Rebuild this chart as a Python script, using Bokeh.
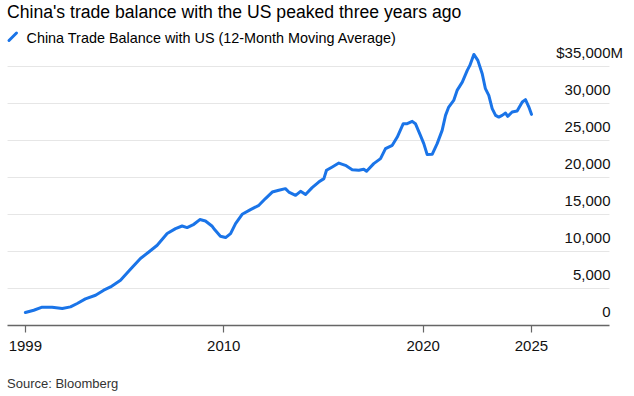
from bokeh.plotting import figure
from bokeh.models import FixedTicker, Range1d, Grid, ColumnDataSource
from bokeh.core.properties import value
from bokeh.embed import file_html
from bokeh.resources import INLINE

# ---- data ----
TITLE = "China's trade balance with the US peaked three years ago"
SERIES_NAME = "China Trade Balance with US (12-Month Moving Average)"
SOURCE = "Source: Bloomberg"

years = [2000.05, 2000.47, 2000.89, 2001.39, 2001.90, 2002.31, 2002.65, 2003.06, 2003.57, 2003.98,
         2004.32, 2004.82, 2005.32, 2005.82, 2006.24, 2006.66, 2007.16, 2007.58, 2007.91, 2008.16,
         2008.50, 2008.80, 2009.08, 2009.42, 2009.55, 2009.83, 2010.09, 2010.34, 2010.59, 2010.92,
         2011.34, 2011.76, 2012.09, 2012.43, 2012.76, 2013.09, 2013.26, 2013.60, 2013.85, 2014.10,
         2014.43, 2014.76, 2015.02, 2015.15, 2015.44, 2015.77, 2016.10, 2016.44, 2016.77, 2017.02,
         2017.16, 2017.52, 2017.86, 2018.11, 2018.45, 2018.70, 2019.00, 2019.20, 2019.45, 2019.61,
         2019.86, 2020.03, 2020.20, 2020.45, 2020.70, 2020.95, 2021.12, 2021.28, 2021.53, 2021.70,
         2021.96, 2022.21, 2022.34, 2022.54, 2022.74, 2022.96, 2023.12, 2023.29, 2023.46, 2023.63,
         2023.79, 2023.96, 2024.13, 2024.24, 2024.46, 2024.71, 2024.97, 2025.13, 2025.30, 2025.43]
balance = [1750, 2060, 2470, 2470, 2290, 2510, 2970, 3590, 4080, 4760,
           5200, 6100, 7590, 9030, 9920, 10820, 12400, 13070, 13420, 13210,
           13650, 14290, 14100, 13380, 12900, 12040, 11860, 12400, 13750, 15000,
           15630, 16210, 17120, 18000, 18240, 18460, 18000, 17560, 18100, 17660,
           18600, 19350, 19810, 20930, 21380, 21910, 21600, 21020, 20930, 21070,
           20800, 21830, 22510, 23850, 24300, 25420, 27220, 27220, 27530, 27220,
           25650, 24530, 23050, 23090, 24530, 26320, 28340, 29460, 30360, 31710,
           32830, 34410, 35080, 36560, 35760, 33960, 31940, 31040, 29250, 28340,
           28110, 28340, 28650, 28210, 28790, 28920, 30140, 30460, 29460, 28480]

x_ticks = [2000.05, 2010.0, 2020.0, 2025.43]
x_labels = ["1999", "2010", "2020", "2025"]
y_ticks = [0, 5000, 10000, 15000, 20000, 25000, 30000, 35000]
y_labels = ["0", "5,000", "10,000", "15,000", "20,000", "25,000", "30,000", "$35,000"]
y_unit = "M"

# ---- styling / layout ----
BLUE = "#1a74e8"
FONT = "Liberation Sans"
W, H = 630, 394
F_LEFT, F_RIGHT, F_TOP, F_BOTTOM = 7, 609, 48, 325
X_START, X_END = 1999.153, 2029.343
Y_END = 37361
PX_X = (F_RIGHT - F_LEFT) / (X_END - X_START)
PX_Y = (F_BOTTOM - F_TOP) / Y_END


def sx_to_x(sx):
    return X_START + (sx - F_LEFT) / PX_X


def sy_to_y(sy):
    return (F_BOTTOM - sy) / PX_Y


p = figure(width=W, height=H, output_backend="svg", toolbar_location=None,
           x_range=Range1d(X_START, X_END), y_range=Range1d(0, Y_END),
           y_axis_location=None,
           min_border_left=F_LEFT, min_border_right=W - F_RIGHT,
           min_border_top=F_TOP, min_border_bottom=H - F_BOTTOM)
p.outline_line_color = None
p.background_fill_color = "white"
p.border_fill_color = "white"
p.xgrid.visible = False

p.add_layout(Grid(dimension=1, ticker=FixedTicker(ticks=y_ticks),
                  grid_line_color="#e6e6e6", grid_line_width=1))

ax = p.xaxis[0]
ax.ticker = FixedTicker(ticks=x_ticks)
ax.major_label_overrides = {float(t): l for t, l in zip(x_ticks, x_labels)}
ax.axis_line_color = "#666666"
ax.axis_line_width = 1.3
ax.major_tick_line_color = "#666666"
ax.major_tick_line_width = 1.2
ax.major_tick_out = 7
ax.major_tick_in = 0
ax.minor_tick_out = 0
ax.minor_tick_in = 0
ax.major_label_standoff = 8
ax.major_label_text_font = FONT
ax.major_label_text_font_size = "15px"
ax.major_label_text_color = "#111111"

p.line(years, balance, line_width=3, line_color=BLUE, line_join="round", line_cap="round")

# value labels sitting above their gridlines, right-aligned at the grid's end
ysrc = ColumnDataSource(dict(x=[X_END] * len(y_ticks), y=y_ticks, t=y_labels))
r = p.text(x="x", y="y", text="t", source=ysrc, text_align="right", text_baseline="alphabetic",
           x_offset=1, y_offset=-13.5, text_font=value(FONT), text_font_size="15px",
           text_color="#111111")
r.level = "annotation"
r2 = p.text(x=[X_END], y=[y_ticks[-1]], text=[y_unit], text_align="left", text_baseline="alphabetic",
            x_offset=1, y_offset=-13.5, text_font=value(FONT), text_font_size="15px",
            text_color="#111111")
r2.level = "annotation"

# heading, legend and source, placed in the margins
t1 = p.text(x=[sx_to_x(6.5)], y=[sy_to_y(11.5)], text=[TITLE], text_align="left",
            text_baseline="alphabetic", text_font=value(FONT), text_font_size="17.6px",
            text_color="#000000")
t1.level = "annotation"
t2 = p.text(x=[sx_to_x(26)], y=[sy_to_y(37)], text=[SERIES_NAME], text_align="left",
            text_baseline="alphabetic", text_font=value(FONT), text_font_size="14.4px",
            text_color="#000000")
t2.level = "annotation"
icon = p.segment(x0=[sx_to_x(8.5)], y0=[sy_to_y(40)], x1=[sx_to_x(16)], y1=[sy_to_y(32.5)],
                 line_color=BLUE, line_width=3, line_cap="round")
icon.level = "annotation"
t3 = p.text(x=[sx_to_x(6.5)], y=[sy_to_y(383)], text=[SOURCE], text_align="left",
            text_baseline="alphabetic", text_font=value(FONT), text_font_size="13px",
            text_color="#333333")
t3.level = "annotation"

open("out.html", "w").write(file_html(p, INLINE))
